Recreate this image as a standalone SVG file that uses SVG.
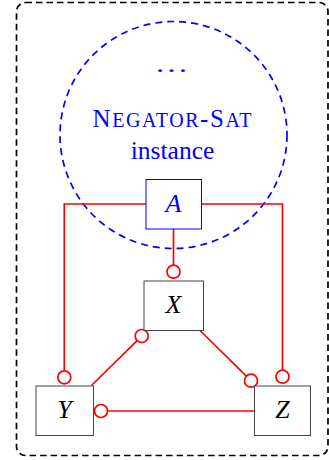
<svg xmlns="http://www.w3.org/2000/svg" width="329" height="460" viewBox="0 0 329 460">
<style>
.box{fill:#fff;stroke:#444;stroke-width:1}
.lbl{font-family:"Liberation Serif","Times New Roman",serif;font-style:italic;font-size:26px;text-anchor:middle}
.edge{stroke:#f00;stroke-width:1.7;fill:none}
.cap{fill:#fff;stroke:#f00;stroke-width:1.7}
.blue{fill:#00f;font-family:"Liberation Serif","Times New Roman",serif;text-anchor:middle}
</style>
<rect id="frame" x="16.5" y="2.5" width="311.5" height="453" rx="9" fill="none" stroke="#000" stroke-width="1.7" stroke-dasharray="6.5 4"/>
<g id="instance">
<circle cx="173.5" cy="135" r="113.5" fill="none" stroke="#00f" stroke-width="1.7" stroke-dasharray="7 5"/>
<text class="blue" x="171.5" y="72" font-size="24" textLength="34" lengthAdjust="spacingAndGlyphs">…</text>
<text class="blue" x="172" y="127" font-size="25" textLength="159" lengthAdjust="spacing">N<tspan font-size="20">EGATOR</tspan>-S<tspan font-size="20">AT</tspan></text>
<text class="blue" x="172.5" y="159" font-size="25.5">instance</text>
</g>
<g id="connectors">
<path class="edge" d="M146 204H64.3V370.8"/>
<path class="edge" d="M201.5 204H282.5V370.2"/>
<path class="edge" d="M173.5 229V265.2"/>
<path class="edge" d="M91.5 385.5L137.1 340.6"/>
<path class="edge" d="M200 330.5L246.4 376.1"/>
<path class="edge" d="M255 411H107.5"/>
<circle class="cap" cx="64.3" cy="377.3" r="6.5"/>
<circle class="cap" cx="282.5" cy="376.7" r="6.5"/>
<circle class="cap" cx="173.5" cy="271.7" r="6.5"/>
<circle class="cap" cx="141.7" cy="336" r="6.5"/>
<circle class="cap" cx="251" cy="380.7" r="6.5"/>
<circle class="cap" cx="101" cy="411" r="6.5"/>
</g>
<g id="A">
<rect x="146" y="179.5" width="55.5" height="49.5" fill="#fff" stroke="#00f" stroke-width="1"/>
<text class="lbl" x="173.5" y="212" fill="#00f">A</text>
</g>
<g id="X">
<rect class="box" x="144" y="281" width="59.5" height="49.5"/>
<text class="lbl" x="173.5" y="313">X</text>
</g>
<g id="Y">
<rect class="box" x="36" y="386" width="57.5" height="49.5"/>
<text class="lbl" x="64.5" y="418">Y</text>
</g>
<g id="Z">
<rect class="box" x="254.5" y="386" width="56" height="49.5"/>
<text class="lbl" x="282.5" y="418">Z</text>
</g>
</svg>
